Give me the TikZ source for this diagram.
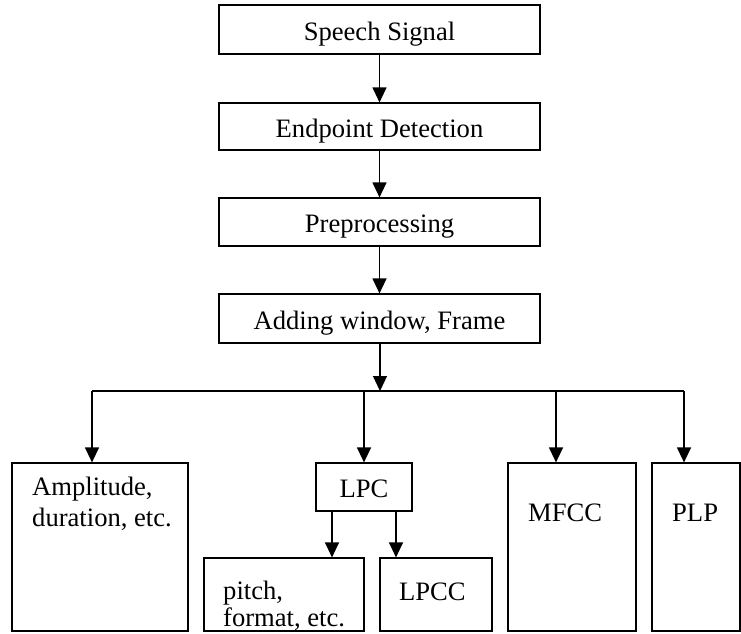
\documentclass[tikz,border=0pt]{standalone}
\usepackage{fontspec}
\setmainfont{Liberation Serif}
\usetikzlibrary{arrows.meta}
\begin{document}
\begin{tikzpicture}[x=1pt,y=-1pt,
  lw/.style={line width=1.2pt},
  box/.style={draw,lw,rectangle,inner sep=0pt,text height=21pt,text depth=0pt,font=\fontsize{26.6}{31}\selectfont},
  txt/.style={inner sep=0pt,align=left,anchor=base west},
  arr/.style={lw,-{Triangle[width=14pt,length=15pt]}},
  every node/.append style={font=\fontsize{26.6}{31}\selectfont}]
\useasboundingbox (0,0) rectangle (741,633);
% top chain
\node[box,minimum width=321pt,minimum height=49pt] (ss) at (379.5,29.5) {Speech Signal};
\node[box,minimum width=321pt,minimum height=47pt] (ed) at (379.5,126.5) {Endpoint Detection};
\node[box,minimum width=321pt,minimum height=48pt] (pp) at (379.5,222) {Preprocessing};
\node[box,minimum width=321pt,minimum height=49pt] (aw) at (379.5,318.5) {Adding window, Frame};
% lower boxes
\node[box,minimum width=176pt,minimum height=168pt] (amp) at (100,547) {};
\node[box,minimum width=96pt,minimum height=48pt] (lpc) at (364,487) {LPC};
\node[box,minimum width=160pt,minimum height=73pt] (pitch) at (284,594.5) {};
\node[box,minimum width=112pt,minimum height=73pt] (lpcc) at (436,594.5) {};
\node[box,minimum width=128pt,minimum height=168pt] (mfcc) at (572,547) {};
\node[box,minimum width=88pt,minimum height=168pt] (plp) at (696,547) {};
% texts inside tall boxes
\node[txt] (ampt) at (32,526) {Amplitude,\\duration, etc.};
\node[txt,font=\fontsize{26.6}{27}\selectfont] (pitcht) at (223,626) {pitch,\\format, etc.};
\node[txt] (lpcct) at (399,600) {LPCC};
\node[txt] (mfcct) at (528,521) {MFCC};
\node[txt] (plpt) at (672,521) {PLP};
% connectors
\draw[arr] (ss) -- (ed);
\draw[arr] (ed) -- (pp);
\draw[arr] (pp) -- (aw);
\coordinate (hub) at (380,391);
\coordinate (b1) at (92,391);
\coordinate (b2) at (364,391);
\coordinate (b3) at (556,391);
\coordinate (b4) at (684,391);
\draw[arr] (aw.south -| hub) -- (hub);
\draw[lw] (b1) -- (b4);
\draw[arr] (b1) -- (b1 |- amp.north);
\draw[arr] (b2) -- (b2 |- lpc.north);
\draw[arr] (b3) -- (b3 |- mfcc.north);
\draw[arr] (b4) -- (b4 |- plp.north);
\coordinate (l1) at (332,511);
\coordinate (l2) at (396,511);
\draw[arr] (l1 |- lpc.south) -- (l1 |- pitch.north);
\draw[arr] (l2 |- lpc.south) -- (l2 |- lpcc.north);
\end{tikzpicture}
\end{document}
